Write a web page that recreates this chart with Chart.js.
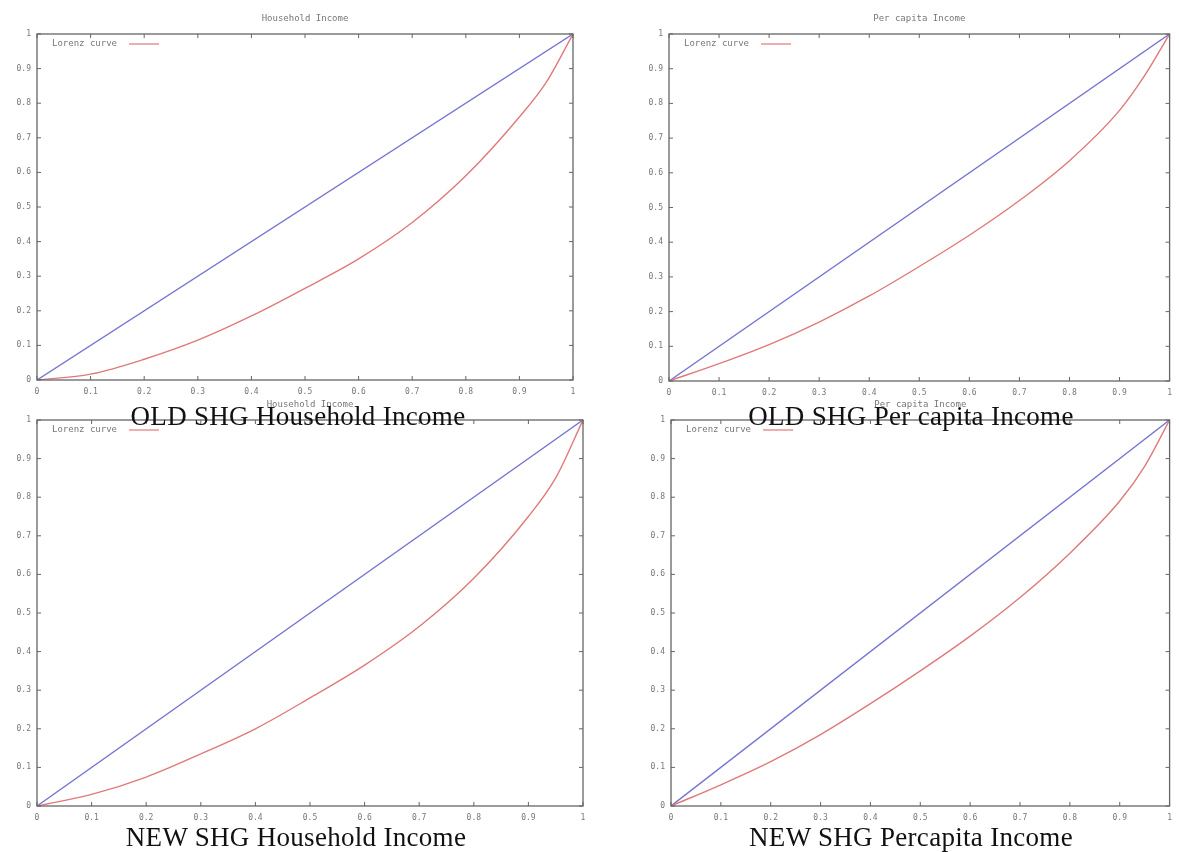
<!DOCTYPE html>
<html>
<head>
<meta charset="utf-8">
<script src="https://cdn.jsdelivr.net/npm/chart.js"></script>
<style>
  body { margin: 0; background: #fff; width: 1179px; height: 852px; position: relative; overflow: hidden; }
  canvas { position: absolute; }
  .caption {
    position: absolute; width: 500px; text-align: center;
    font-family: "Liberation Serif", "DejaVu Serif", serif; font-size: 27px;
    letter-spacing: 0.3px; color: #111; white-space: nowrap;
  }
</style>
</head>
<body>
<canvas id="oldHouse" width="590" height="410" style="left:0;top:0"></canvas>
<canvas id="oldCapita" width="549" height="410" style="left:630px;top:0"></canvas>
<canvas id="newHouse" width="600" height="430" style="left:0;top:400px"></canvas>
<canvas id="newCapita" width="549" height="430" style="left:630px;top:400px"></canvas>

<div class="caption" style="left:48px;top:401px">OLD SHG Household Income</div>
<div class="caption" style="left:661px;top:401px">OLD SHG Per capita Income</div>
<div class="caption" style="left:46px;top:822px">NEW SHG Household Income</div>
<div class="caption" style="left:661px;top:822px">NEW SHG Percapita Income</div>

<script>
// LORENZ CURVES - cumulative share of households vs cumulative share of income
const popShare = [0, 0.1, 0.2, 0.3, 0.4, 0.5, 0.6, 0.7, 0.8, 0.9, 0.95, 1];

const oldHouseIncome  = [0, 0.017, 0.06, 0.115, 0.185, 0.265, 0.35, 0.455, 0.59, 0.76, 0.86, 1];
const oldCapitaIncome = [0, 0.05, 0.105, 0.17, 0.245, 0.33, 0.42, 0.52, 0.635, 0.78, 0.88, 1];
const newHouseIncome  = [0, 0.03, 0.075, 0.135, 0.2, 0.28, 0.365, 0.465, 0.59, 0.75, 0.85, 1];
const newCapitaIncome = [0, 0.055, 0.115, 0.185, 0.265, 0.35, 0.44, 0.54, 0.655, 0.79, 0.88, 1];

// line of perfect equality
const equalityX = [0, 1];
const equalityY = [0, 1];

const tickValues = [0, 0.1, 0.2, 0.3, 0.4, 0.5, 0.6, 0.7, 0.8, 0.9, 1];
const tickLabels = ["0", "0.1", "0.2", "0.3", "0.4", "0.5", "0.6", "0.7", "0.8", "0.9", "1"];

Chart.defaults.font.family = "'DejaVu Sans Mono', monospace";
Chart.defaults.color = "#777";

// gnuplot look: full border, inward mirrored ticks, key inside, small title
const gnuFrame = {
    id: "gnuFrame",
    afterDatasetsDraw(chart, args, opts) {
        const { ctx, chartArea: a, scales: { x, y } } = chart;
        ctx.save();
        ctx.strokeStyle = "#666";
        ctx.lineWidth = 1.3;
        ctx.strokeRect(a.left, a.top, a.right - a.left, a.bottom - a.top);

        ctx.lineWidth = 1;
        ctx.beginPath();
        x.ticks.forEach(t => {
            const px = x.getPixelForValue(t.value);
            ctx.moveTo(px, a.bottom); ctx.lineTo(px, a.bottom - 4);
            ctx.moveTo(px, a.top); ctx.lineTo(px, a.top + 4);
        });
        y.ticks.forEach(t => {
            const py = y.getPixelForValue(t.value);
            ctx.moveTo(a.left, py); ctx.lineTo(a.left + 4, py);
            ctx.moveTo(a.right, py); ctx.lineTo(a.right - 4, py);
        });
        ctx.stroke();

        // key
        const ds = chart.data.datasets[0];
        ctx.font = "9px 'DejaVu Sans Mono'";
        ctx.fillStyle = "#777";
        ctx.textBaseline = "middle";
        ctx.textAlign = "left";
        const kx = a.left + 15, ky = a.top + 10;
        ctx.fillText(ds.label, kx, ky);
        const w = ctx.measureText(ds.label).width;
        ctx.strokeStyle = ds.borderColor;
        ctx.lineWidth = 1.2;
        ctx.beginPath();
        ctx.moveTo(kx + w + 12, ky); ctx.lineTo(kx + w + 42, ky);
        ctx.stroke();

        // title
        ctx.fillStyle = "#777";
        ctx.textAlign = "center";
        ctx.fillText(opts.title, (a.left + a.right) / 2, a.top - 15);
        ctx.restore();
    }
};

function toPoints(xs, ys) {
    return xs.map((v, i) => ({ x: v, y: ys[i] }));
}

function makeAxis(fitSize, isX) {
    return {
        type: "linear",
        min: 0,
        max: 1,
        afterBuildTicks: scale => { scale.ticks = tickValues.map(v => ({ value: v })); },
        afterFit: scale => {
            if (isX) scale.height = fitSize; else scale.width = fitSize;
        },
        ticks: {
            callback: (v, i) => tickLabels[i],
            font: { size: 8 },
            color: "#777",
            padding: isX ? 7 : 6,
            maxRotation: 0,
            autoSkip: false
        },
        grid: { display: false, drawTicks: false },
        border: { display: false }
    };
}

function drawLorenz(id, title, incomeShare, pad) {
    new Chart(document.getElementById(id), {
        type: "line",
        data: {
            datasets: [
                {
                    label: "Lorenz curve",
                    data: toPoints(popShare, incomeShare),
                    borderColor: "#e07a7a",
                    borderWidth: 1.4,
                    pointRadius: 0,
                    cubicInterpolationMode: "monotone"
                },
                {
                    label: "equality",
                    data: toPoints(equalityX, equalityY),
                    borderColor: "#7575d2",
                    borderWidth: 1.4,
                    pointRadius: 0
                }
            ]
        },
        options: {
            responsive: false,
            animation: false,
            layout: { padding: { top: pad.top, right: pad.right, left: 0, bottom: 0 } },
            plugins: {
                legend: { display: false },
                tooltip: { enabled: false },
                gnuFrame: { title: title }
            },
            scales: {
                x: makeAxis(pad.xh, true),
                y: makeAxis(pad.yw, false)
            }
        },
        plugins: [gnuFrame]
    });
}

// START
drawLorenz("oldHouse", "Household Income", oldHouseIncome, { top: 34, right: 17, xh: 30, yw: 37 });
drawLorenz("oldCapita", "Per capita Income", oldCapitaIncome, { top: 34, right: 3, xh: 29, yw: 39 });
drawLorenz("newHouse", "Household Income", newHouseIncome, { top: 20, right: 17, xh: 24, yw: 37 });
drawLorenz("newCapita", "Per capita Income", newCapitaIncome, { top: 20, right: 1, xh: 24, yw: 41 });
</script>
</body>
</html>
